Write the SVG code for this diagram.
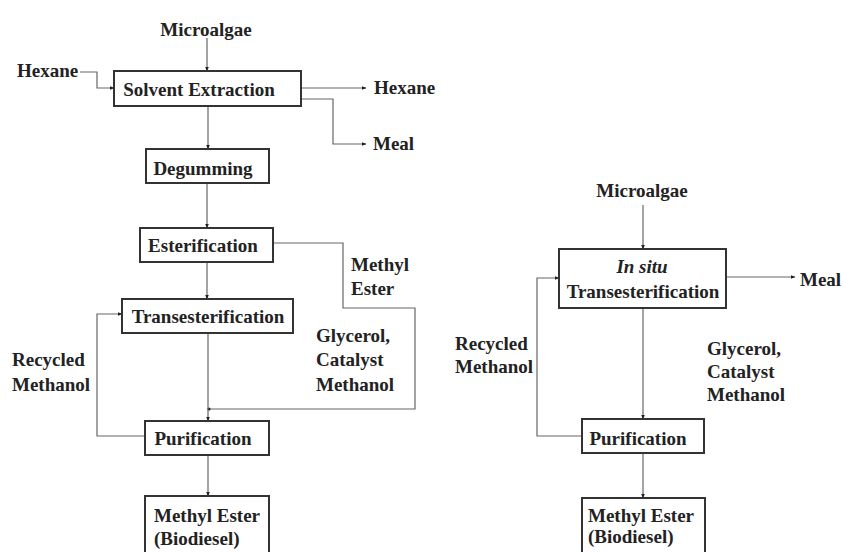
<svg xmlns="http://www.w3.org/2000/svg" width="843" height="552" viewBox="0 0 843 552">
  <style>
    text { font-family: "Liberation Serif", "Times New Roman", serif; font-weight: bold; font-size: 19px; fill: #222; }
    .box { fill: #fff; stroke: #333; stroke-width: 2; }
    .c { text-anchor: middle; }
    .flow { fill: none; stroke: #666; stroke-width: 1.2; marker-end: url(#ah); }
    .line { fill: none; stroke: #666; stroke-width: 1.2; }
  </style>
  <defs>
    <marker id="ah" viewBox="0 0 10 10" refX="9" refY="5" markerWidth="5" markerHeight="5" orient="auto" markerUnits="userSpaceOnUse">
      <path d="M0,1 L10,5 L0,9 z" fill="#222"/>
    </marker>
  </defs>
  <rect width="843" height="552" fill="#fff"/>

  <!-- connectors -->
  <g id="connectors">
    <!-- conventional route -->
    <path class="flow" d="M207,38 V71"/>
    <path class="flow" d="M80,72 H97 V88 H114"/>
    <path class="flow" d="M301,88 H366"/>
    <path class="flow" d="M301,99 H333 V144 H366"/>
    <path class="flow" d="M208,106 V149"/>
    <path class="flow" d="M207,183 V228"/>
    <path class="flow" d="M207,262 V299"/>
    <path class="line" d="M273,243 H343 V308 H415 V409 H208"/>
    <circle cx="209" cy="409" r="1.6" fill="#222"/>
    <path class="line" d="M208,333 V409"/>
    <path class="flow" d="M208,409 V421"/>
    <path class="flow" d="M145,436 H97 V314 H122"/>
    <path class="flow" d="M208,455 V496"/>
    <!-- in situ route -->
    <path class="flow" d="M643,205 V249"/>
    <path class="flow" d="M726,277 H795"/>
    <path class="flow" d="M643,308 V419"/>
    <path class="flow" d="M582,436 H537 V278 H559"/>
    <path class="flow" d="M643,453 V498"/>
  </g>

  <!-- stream labels -->
  <g id="labels">
    <text x="206" y="36" class="c">Microalgae</text>
    <text x="17" y="77">Hexane</text>
    <text x="374" y="94">Hexane</text>
    <text x="373" y="150">Meal</text>
    <text x="351" y="271">Methyl</text>
    <text x="351" y="295">Ester</text>
    <text x="316" y="342">Glycerol,</text>
    <text x="316" y="366">Catalyst</text>
    <text x="316" y="391">Methanol</text>
    <text x="12" y="366">Recycled</text>
    <text x="12" y="391">Methanol</text>

    <text x="642" y="197" class="c">Microalgae</text>
    <text x="800" y="286">Meal</text>
    <text x="707" y="355">Glycerol,</text>
    <text x="707" y="378">Catalyst</text>
    <text x="707" y="401">Methanol</text>
    <text x="455" y="350">Recycled</text>
    <text x="455" y="373">Methanol</text>
  </g>

  <!-- process units: conventional route -->
  <g id="solvent-extraction">
    <rect class="box" x="114" y="71" width="187" height="35"/>
    <text x="199" y="96" class="c">Solvent Extraction</text>
  </g>
  <g id="degumming">
    <rect class="box" x="146" y="149" width="123" height="34"/>
    <text x="203" y="175" class="c">Degumming</text>
  </g>
  <g id="esterification">
    <rect class="box" x="140" y="228" width="133" height="34"/>
    <text x="203" y="252" class="c">Esterification</text>
  </g>
  <g id="transesterification">
    <rect class="box" x="122" y="299" width="171" height="34"/>
    <text x="208" y="323" class="c">Transesterification</text>
  </g>
  <g id="purification">
    <rect class="box" x="145" y="421" width="124" height="34"/>
    <text x="203" y="445" class="c">Purification</text>
  </g>
  <g id="methyl-ester">
    <rect class="box" x="145" y="496" width="124" height="70"/>
    <text x="154" y="522">Methyl Ester</text>
    <text x="154" y="545">(Biodiesel)</text>
  </g>

  <!-- process units: in situ route -->
  <g id="in-situ-transesterification">
    <rect class="box" x="559" y="249" width="167" height="59"/>
    <text x="642" y="273" class="c" font-style="italic">In situ</text>
    <text x="643" y="298" class="c">Transesterification</text>
  </g>
  <g id="purification-2">
    <rect class="box" x="582" y="419" width="122" height="34"/>
    <text x="638" y="445" class="c">Purification</text>
  </g>
  <g id="methyl-ester-2">
    <rect class="box" x="582" y="498" width="123" height="70"/>
    <text x="588" y="522">Methyl Ester</text>
    <text x="588" y="543">(Biodiesel)</text>
  </g>
</svg>
